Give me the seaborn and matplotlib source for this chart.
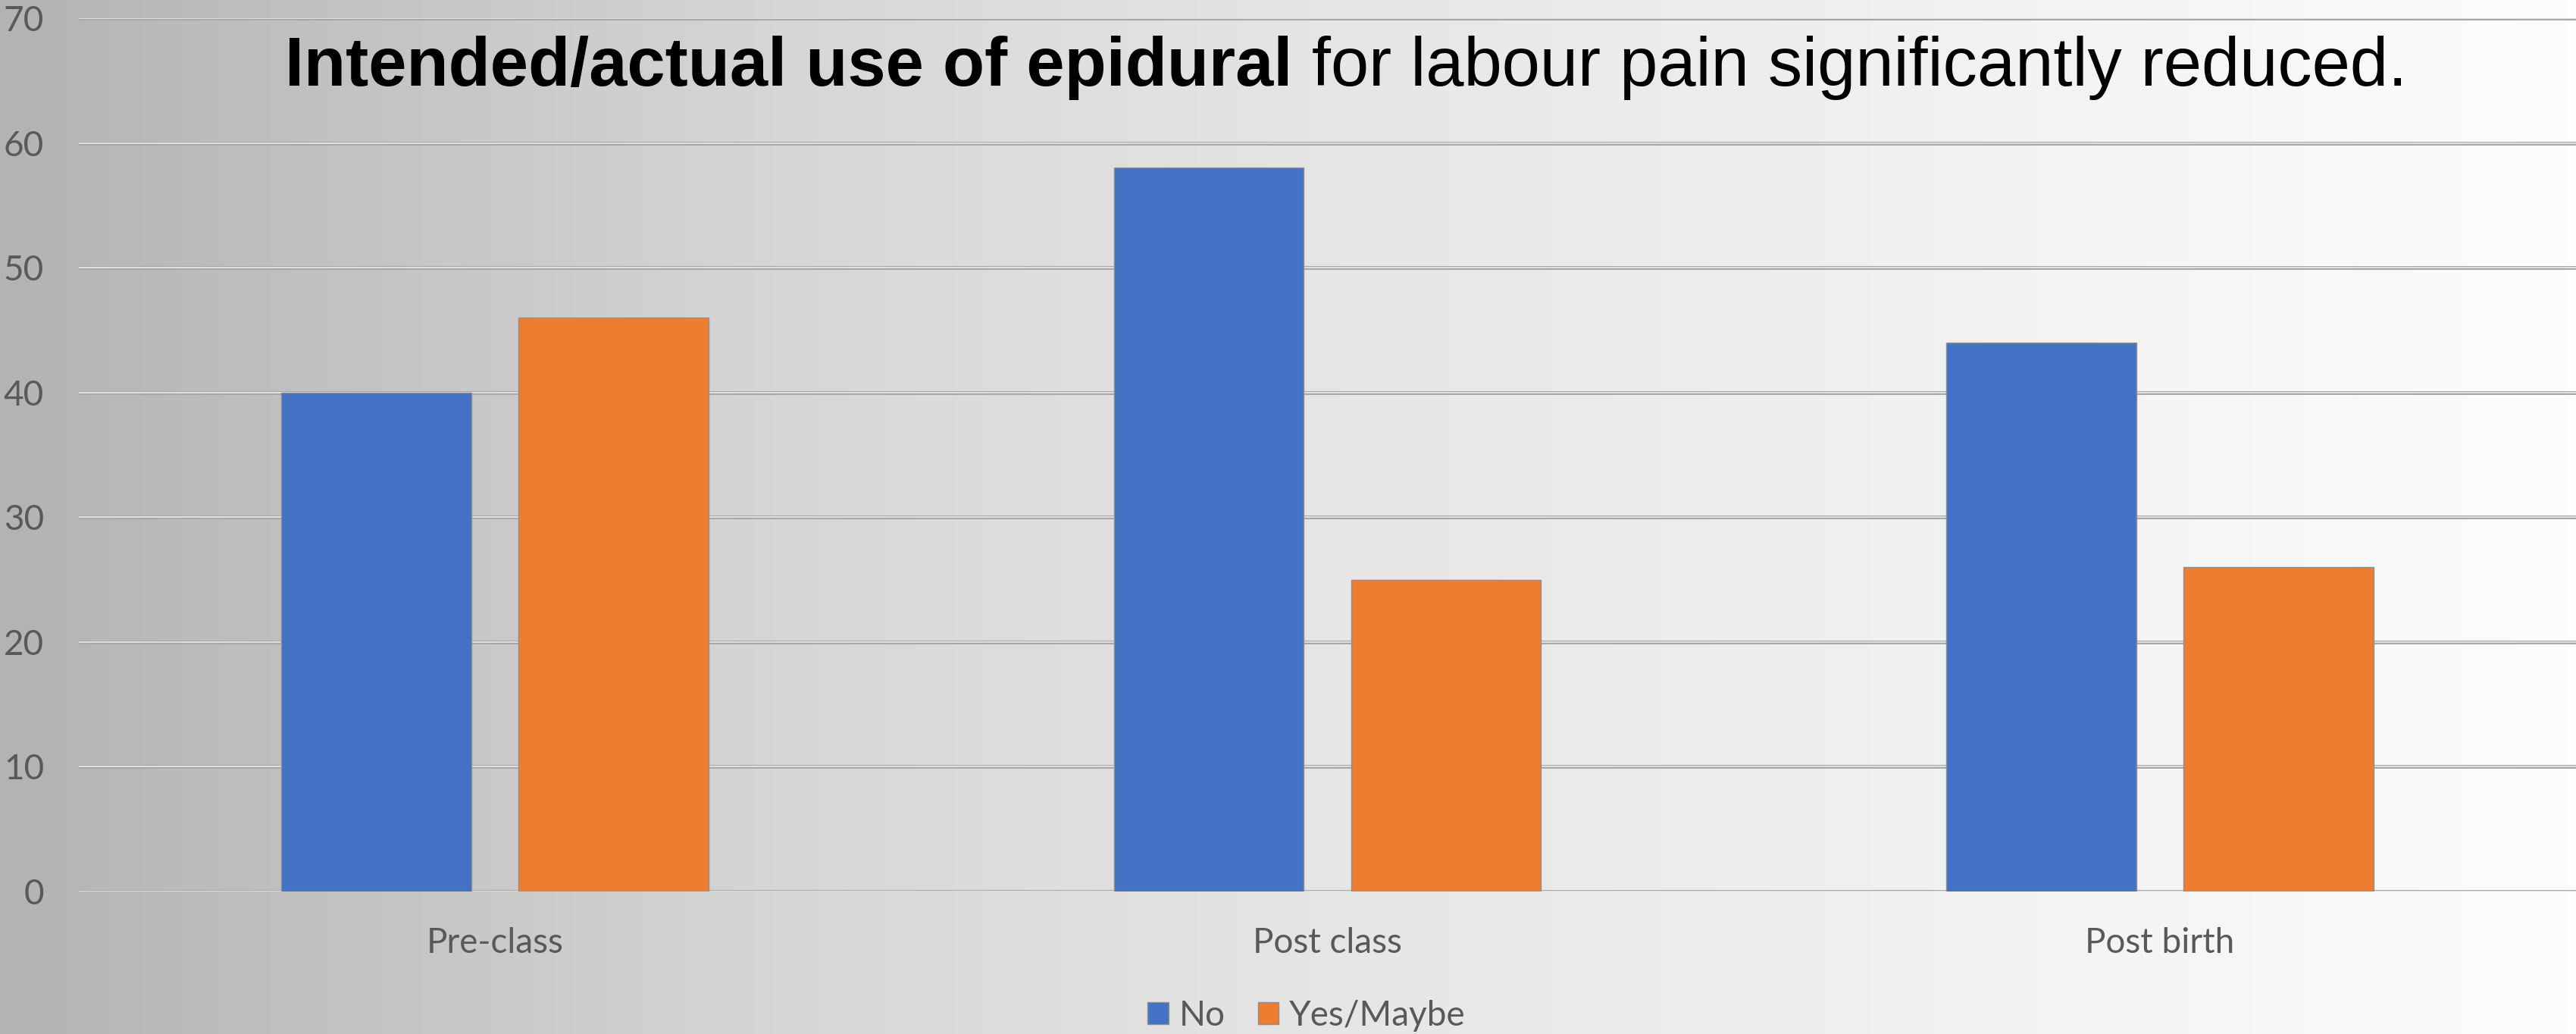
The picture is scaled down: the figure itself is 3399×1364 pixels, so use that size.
import numpy as np
import pandas as pd
import matplotlib
matplotlib.use("Agg")
import matplotlib.pyplot as plt
from matplotlib.colors import LinearSegmentedColormap
import seaborn as sns

# Survey responses by stage (percent of respondents)
stages = ["Pre-class", "Post class", "Post birth"]
responses = ["No", "Yes/Maybe"]
no_values = [40, 58, 44]
yes_maybe_values = [46, 25, 26]
y_ticks = [0, 10, 20, 30, 40, 50, 60, 70]

df = pd.DataFrame({
    "Stage": stages * 2,
    "Response": [responses[0]] * 3 + [responses[1]] * 3,
    "Percent": no_values + yes_maybe_values,
})

sns.set_theme(style="white")
plt.rcParams["font.family"] = ["Lato", "DejaVu Sans"]

W, H = 3399, 1364
fig = plt.figure(figsize=(W / 100, H / 100), dpi=100)

# Horizontal grey-to-white backdrop
bg = fig.add_axes([0, 0, 1, 1], zorder=-10)
grad_cmap = LinearSegmentedColormap.from_list(
    "bg", [(0.0, "#b3b3b3"), (0.3, "#d6d6d6"), (0.52, "#e6e6e6"), (1.0, "#fdfdfd")]
)
bg.imshow(np.linspace(0, 1, 512)[None, :], aspect="auto", cmap=grad_cmap,
          extent=[0, 1, 0, 1])
bg.set_axis_off()

ax_left = 104 / W
ax_bottom = 1 - 1176 / H
ax_top = 1 - 24 / H
ax = fig.add_axes([ax_left, ax_bottom, 1 - ax_left, ax_top - ax_bottom])
ax.patch.set_alpha(0)

sns.barplot(data=df, x="Stage", y="Percent", hue="Response",
            palette=["#4472C4", "#ED7D31"], saturation=1,
            width=0.57, gap=0.2, edgecolor="#8f8f8f", linewidth=1.0,
            errorbar=None, ax=ax)

ax.set_xlim(-0.5, 2.5)
ax.set_ylim(0, 70)
ax.set_yticks(y_ticks)
ax.set_xlabel("")
ax.set_ylabel("")
for s in ax.spines.values():
    s.set_visible(False)

# Embossed gridlines: dark outer stroke with a pale core
ax.set_axisbelow(True)
ax.yaxis.grid(True, color="#a8a8a8", linewidth=3.6)
for v in y_ticks:
    ax.axhline(v, color="#e4e4e4", linewidth=1.3, zorder=0.6)

ax.tick_params(axis="y", length=0, pad=33, labelsize=33, labelcolor="#595959")
ax.tick_params(axis="x", length=0, pad=34, labelsize=33, labelcolor="#595959")

# Legend centred below the categories
handles, labels = ax.get_legend_handles_labels()
ax.get_legend().remove()
fig.legend(handles, labels, loc="center", bbox_to_anchor=(1724 / W, 1 - 1340 / H),
           ncol=2, frameon=False, fontsize=33, labelcolor="#595959",
           handlelength=0.6, handleheight=0.6, handletextpad=0.3,
           columnspacing=0.95)

# Two-part title: bold lead-in followed by regular text
title_fs = 65
baseline_y = 1 - 113 / H
t1 = fig.text(0, baseline_y, "Intended/actual use of epidural", fontsize=title_fs,
              fontweight="bold", family=["Liberation Sans", "DejaVu Sans"],
              color="black", va="baseline", ha="left")
t2 = fig.text(0, baseline_y, "for labour pain significantly reduced.", fontsize=title_fs,
              family=["Liberation Sans", "DejaVu Sans"], color="black",
              va="baseline", ha="left")
fig.canvas.draw()
r = fig.canvas.get_renderer()
w1 = t1.get_window_extent(r).width
w2 = t2.get_window_extent(r).width
gap = 0.278 * title_fs * 100 / 72
total = w1 + gap + w2
x0 = 1776 - total / 2
t1.set_x(x0 / W)
t2.set_x((x0 + w1 + gap) / W)

fig.savefig("out.png", dpi=100)
